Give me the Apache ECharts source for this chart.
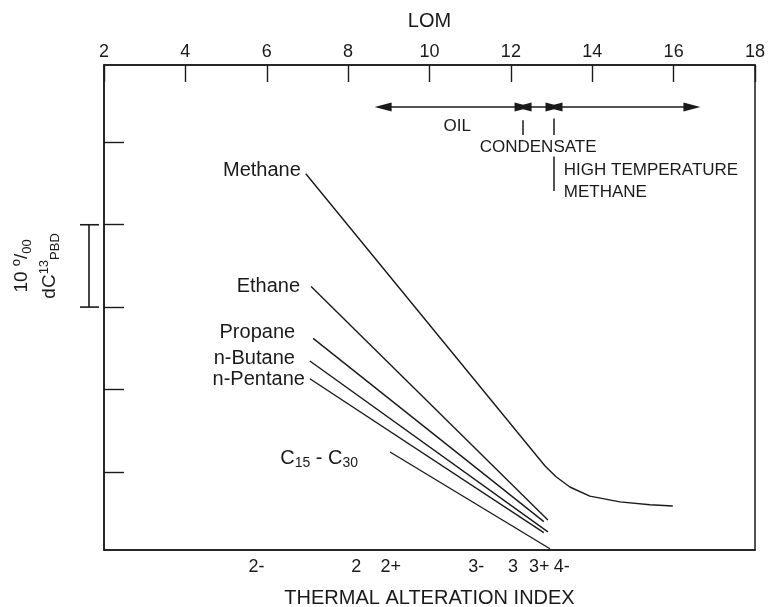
<!DOCTYPE html>
<html>
<head>
<meta charset="utf-8">
<script src="https://cdn.jsdelivr.net/npm/echarts@6/dist/echarts.min.js"></script>
<style>
html, body { margin: 0; padding: 0; background: #fff; }
#main { width: 775px; height: 607px; }
</style>
</head>
<body>
<div id="main"></div>
<script>
// 底部 热变指数 标签位置 (按 LOM 刻度)
const taiPos = [5.75, 8.2, 9.05, 11.15, 12.05, 12.7, 13.25];
const taiLabels = ['2-', '2', '2+', '3-', '3', '3+', '4-'];
// δ13C 相对值 (‰), 每10一个刻度
const dTicks = [0, 10, 20, 30, 40];

// 曲线 [LOM, δ13C]
const methane = [[6.96, 36.2], [12.84, 0.7], [13.11, -0.6], [13.45, -1.85], [13.94, -2.95], [14.68, -3.65], [15.42, -4.0], [15.98, -4.15]];
const ethane = [[7.09, 22.5], [12.91, -5.85]];
const propane = [[7.14, 16.2], [12.81, -6.05]];
const nButane = [[7.06, 13.45], [12.91, -7.3]];
const nPentane = [[7.06, 11.3], [12.81, -7.4]];
const c15c30 = [[9.03, 2.4], [12.96, -9.35]];

// 生烃带 箭头 (LOM) 与 文字
const zoneBounds = [8.86, 12.3, 13.06, 16.45];
const zoneY = 44.3;
const zoneTicks = [[12.3, 42.7, 40.9], [13.06, 42.9, 40.9], [13.06, 38.3, 34.1]];
const zoneText = [
	['OIL', 10.68, 41.9],
	['CONDENSATE', 12.67, 39.4],
	['HIGH TEMPERATURE', 13.3, 36.55],
	['METHANE', 13.3, 33.9]
];

const FONT = "'Liberation Sans', Arial, sans-serif";
const INK = '#1a1a1a';

const dom = document.getElementById('main');
const myChart = echarts.init(dom);

//曲线+起点标签
function curve(name, pts, dist, off, fmt) {
	let data = pts.map(function(p, i) {
		if (i > 0) return p;
		return {
			value: p,
			label: {
				show: true,
				position: 'left',
				distance: dist,
				offset: off,
				formatter: fmt || name
			}
		};
	});
	return {
		name: name,
		type: 'line',
		xAxisIndex: 0,
		data: data,
		symbol: 'circle',
		symbolSize: 0,
		showSymbol: true,
		silent: true,
		lineStyle: { color: INK, width: 1.4 },
		itemStyle: { color: INK, opacity: 1 },
		label: {
			color: INK,
			fontFamily: FONT,
			fontSize: 20,
			rich: {
				a: { fontSize: 20, fontFamily: FONT, color: INK },
				s: { fontSize: 14, fontFamily: FONT, color: INK, verticalAlign: 'bottom', padding: [10, 0, 0, 0] }
			}
		},
		animation: false
	};
}

let arrows = [];
for (let i = 0; i < zoneBounds.length - 1; i++) {
	arrows.push([
		{ coord: [zoneBounds[i], zoneY], symbol: 'triangle' },
		{ coord: [zoneBounds[i + 1], zoneY], symbol: 'triangle' }
	]);
}
zoneTicks.forEach(function(t) {
	arrows.push([
		{ coord: [t[0], t[1]], symbol: 'none' },
		{ coord: [t[0], t[2]], symbol: 'none' }
	]);
});

const option = {
	backgroundColor: '#fff',
	animation: false,
	grid: {
		left: 104, right: 20, top: 65, bottom: 57,
		outerBoundsMode: 'none',
		containLabel: false,
		show: true, borderColor: INK, borderWidth: 1.5
	},
	xAxis: [{
		type: 'value',
		position: 'top',
		min: 2, max: 18, interval: 2,
		name: 'LOM',
		nameLocation: 'middle',
		nameGap: 34,
		nameTextStyle: { fontSize: 20, fontFamily: FONT, color: INK },
		axisLine: { show: true, onZero: false, lineStyle: { color: INK, width: 1.5 } },
		axisTick: { show: true, inside: true, length: 17, lineStyle: { color: INK, width: 1.4 } },
		axisLabel: { fontSize: 18, fontFamily: FONT, color: INK, margin: 4 },
		splitLine: { show: false }
	}, {
		type: 'value',
		position: 'bottom',
		min: 2, max: 18,
		name: 'THERMAL ALTERATION INDEX',
		nameLocation: 'middle',
		nameGap: 38,
		nameTextStyle: { fontSize: 20, fontFamily: FONT, color: INK },
		axisLine: { show: true, onZero: false, lineStyle: { color: INK, width: 1.5 } },
		axisTick: { show: false },
		axisLabel: {
			fontSize: 18, fontFamily: FONT, color: INK, margin: 8,
			customValues: taiPos,
			formatter: function(v) {
				let k = taiPos.indexOf(v);
				return k >= 0 ? taiLabels[k] : '';
			}
		},
		splitLine: { show: false }
	}],
	yAxis: {
		type: 'value',
		min: -9.5, max: 49.4,
		axisLine: { show: true, onZero: false, lineStyle: { color: INK, width: 1.5 } },
		axisTick: { show: true, inside: true, length: 20, customValues: dTicks, lineStyle: { color: INK, width: 1.4 } },
		axisLabel: { show: false },
		splitLine: { show: false }
	},
	series: [
		curve('Methane', methane, 5, [0, -3]),
		curve('Ethane', ethane, 11, [0, 0]),
		curve('Propane', propane, 18, [0, -6]),
		curve('n-Butane', nButane, 15, [0, -3]),
		curve('n-Pentane', nPentane, 5, [0, 1]),
		curve('C15 - C30', c15c30, 32, [0, 6], '{a|C}{s|15}{a| - C}{s|30}'),
		{
			type: 'scatter',
			xAxisIndex: 0,
			symbolSize: 0,
			silent: true,
			itemStyle: { color: INK, opacity: 1 },
			data: zoneText.map(function(t) {
				return {
					value: [t[1], t[2]],
					label: {
						show: true,
						formatter: t[0],
						position: t[0] == 'OIL' || t[0] == 'CONDENSATE' ? 'inside' : 'right',
						distance: 0
					}
				};
			}),
			label: { color: INK, fontFamily: FONT, fontSize: 17, opacity: 1 },
			markLine: {
				silent: true,
				animation: false,
				symbolSize: [9, 17],
				label: { show: false },
				lineStyle: { color: INK, width: 1.5, type: 'solid', opacity: 1 },
				itemStyle: { color: INK },
				data: arrows
			}
		}
	]
};

myChart.setOption(option);

//左侧比例尺 10‰
let y20 = myChart.convertToPixel({ yAxisIndex: 0 }, 20);
let y30 = myChart.convertToPixel({ yAxisIndex: 0 }, 30);
let bx = 89;
let bcy = (y20 + y30) / 2;
myChart.setOption({
	graphic: [{
		type: 'group',
		silent: true,
		children: [{
			type: 'line', shape: { x1: bx, y1: y20, x2: bx, y2: y30 }, style: { stroke: INK, lineWidth: 1.6 }
		}, {
			type: 'line', shape: { x1: bx - 9, y1: y20, x2: bx + 10, y2: y20 }, style: { stroke: INK, lineWidth: 1.6 }
		}, {
			type: 'line', shape: { x1: bx - 9, y1: y30, x2: bx + 10, y2: y30 }, style: { stroke: INK, lineWidth: 1.6 }
		}, {
			type: 'text', x: 22, y: bcy, rotation: Math.PI / 2,
			style: {
				text: '{a|10 }{p|o}{a|/}{b|00}',
				align: 'center', verticalAlign: 'middle',
				rich: {
					a: { fontSize: 19, fontFamily: FONT, fill: INK, lineHeight: 24 },
					p: { fontSize: 13, fontFamily: FONT, fill: INK, verticalAlign: 'top', lineHeight: 14 },
					b: { fontSize: 13, fontFamily: FONT, fill: INK, verticalAlign: 'bottom', lineHeight: 14 }
				}
			}
		}, {
			type: 'text', x: 50, y: bcy, rotation: Math.PI / 2,
			style: {
				text: '{a|dC}{p|13}{b|PBD}',
				align: 'center', verticalAlign: 'middle',
				rich: {
					a: { fontSize: 19, fontFamily: FONT, fill: INK, lineHeight: 24 },
					p: { fontSize: 13, fontFamily: FONT, fill: INK, verticalAlign: 'top', lineHeight: 14 },
					b: { fontSize: 13, fontFamily: FONT, fill: INK, verticalAlign: 'bottom', lineHeight: 14 }
				}
			}
		}]
	}]
});
</script>
</body>
</html>
